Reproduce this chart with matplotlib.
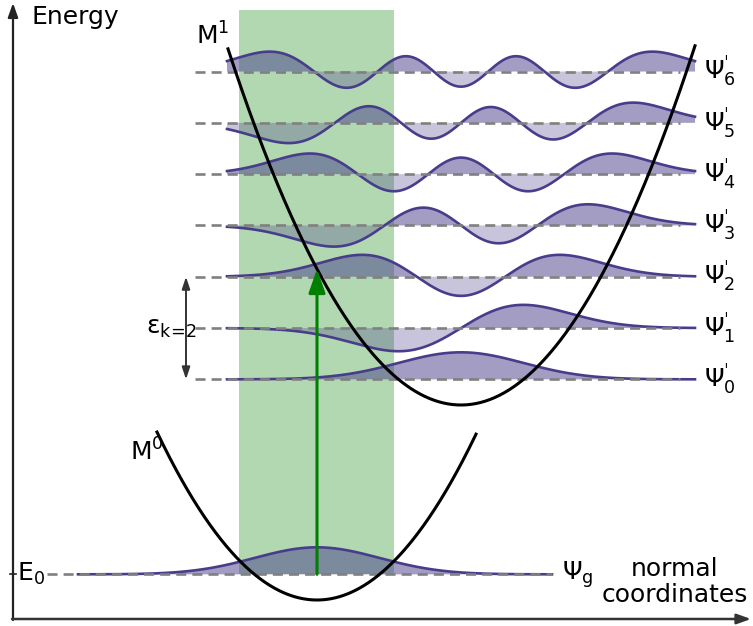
import numpy as np
import matplotlib
matplotlib.use("Agg")
import matplotlib.pyplot as plt
from math import factorial, pi, sqrt
from numpy.polynomial.hermite import hermval

plt.rcParams['font.family'] = ['DejaVu Sans']
plt.rcParams['mathtext.default'] = 'regular'

# ---------------- data (diagram units: x = normal coordinate, y = energy) ----------------
quantum_numbers = [0, 1, 2, 3, 4, 5, 6]
excited_labels = ["Ψ$_{0}^{ˈ}$", "Ψ$_{1}^{ˈ}$", "Ψ$_{2}^{ˈ}$", "Ψ$_{3}^{ˈ}$",
                  "Ψ$_{4}^{ˈ}$", "Ψ$_{5}^{ˈ}$", "Ψ$_{6}^{ˈ}$"]
ground_label = "Ψ$_{g}$"
ground_center = 317.0      # minimum of M0 along normal coordinate
excited_center = 461.0     # minimum of M1 along normal coordinate
ground_min_energy = 26.0
excited_min_energy = 221.0
curvature = 0.00656        # V = curvature * (x - x0)^2
quantum = 51.3             # vibrational quantum (hbar*omega)
wf_width = 62.5            # oscillator length
wf_scale = 36.0            # drawing amplitude of wavefunctions
ground_span = (157, 476)   # x-range drawn for M0
excited_span = (228, 695)  # x-range drawn for M1
ground_wf_span = (78, 552)
excited_wf_span = (227, 695)
franck_condon_band = (239, 394)
k_transition = 2

W, H = 753, 626
FS = 18
fig = plt.figure(figsize=(W / 100, H / 100), dpi=100)
ax = fig.add_axes([0, 0, 1, 1])
ax.set_xlim(0, W)
ax.set_ylim(0, H)
ax.axis('off')

def py(p):  # pixel row -> energy coordinate
    return H - p

line_col = '#483d8b'
dash_col = '#808080'

def psi(n, x, x0):
    xi = (np.asarray(x) - x0) / wf_width
    c = np.zeros(n + 1); c[n] = 1
    norm = 1.0 / sqrt(2 ** n * factorial(n) * sqrt(pi))
    return norm * hermval(xi, c) * np.exp(-xi ** 2 / 2)

def draw_wf(n, x0, level, span, dash_span):
    x = np.linspace(span[0], span[1], 800)
    y = level + wf_scale * psi(n, x, x0)
    ax.fill_between(x, level, y, where=(y >= level), interpolate=True,
                    facecolor=line_col, alpha=0.5, lw=0, zorder=2)
    ax.fill_between(x, level, y, where=(y <= level), interpolate=True,
                    facecolor=line_col, alpha=0.3, lw=0, zorder=2)
    ax.plot(x, y, color=line_col, lw=1.9, zorder=3)
    ax.plot(dash_span, [level, level], color=dash_col, lw=1.9,
            linestyle=(0, (3.8, 2.3)), zorder=4)

# Franck-Condon band
ground_level = ground_min_energy + quantum / 2
ax.axvspan(franck_condon_band[0], franck_condon_band[1],
           ymin=ground_level / H, ymax=py(10) / H,
           facecolor='green', alpha=0.3, lw=0, zorder=1)

# ground state
draw_wf(0, ground_center, ground_level, ground_wf_span, (47, 552))

# excited states
excited_levels = [excited_min_energy + quantum * (n + 0.5) for n in quantum_numbers]
for n, lev, lab in zip(quantum_numbers, excited_levels, excited_labels):
    draw_wf(n, excited_center, lev, excited_wf_span, (195, 680))
    ax.text(704, lev, lab, fontsize=FS, va='center', ha='left')

# potentials
xg = np.linspace(*ground_span, 400)
ax.plot(xg, ground_min_energy + curvature * (xg - ground_center) ** 2,
        color='black', lw=2.2, zorder=5)
xe = np.linspace(*excited_span, 400)
ax.plot(xe, excited_min_energy + curvature * (xe - excited_center) ** 2,
        color='black', lw=2.2, zorder=5)

# vertical transition
tip = excited_min_energy + curvature * (ground_center - excited_center) ** 2
ax.annotate('', xy=(ground_center, tip), xytext=(ground_center, ground_level),
            arrowprops=dict(arrowstyle='-|>,head_length=0.8,head_width=0.28',
                            mutation_scale=18, color='green', lw=2.2,
                            shrinkA=0, shrinkB=0), zorder=6)

# epsilon double arrow
ax.annotate('', xy=(186, excited_levels[k_transition]), xytext=(186, excited_levels[0]),
            arrowprops=dict(arrowstyle='<|-|>,head_length=0.6,head_width=0.2',
                            mutation_scale=12, color='#333333', lw=1.4,
                            shrinkA=0, shrinkB=0), zorder=6)
ax.text(146, (excited_levels[0] + excited_levels[k_transition]) / 2,
        r"ε$_{k\!=\!%d}$" % k_transition, fontsize=FS, va='center', ha='left')

# axes arrows
ax.annotate('', xy=(13, py(3)), xytext=(13, py(620)),
            arrowprops=dict(arrowstyle='-|>,head_length=0.7,head_width=0.25',
                            mutation_scale=12, color='#222222', lw=1.6,
                            shrinkA=0, shrinkB=0))
ax.annotate('', xy=(751, py(619)), xytext=(12, py(619)),
            arrowprops=dict(arrowstyle='-|>,head_length=0.7,head_width=0.25',
                            mutation_scale=12, color='#333333', lw=1.8,
                            shrinkA=0, shrinkB=0))
ax.plot([10, 16], [ground_level, ground_level], color='#222222', lw=1.2)

# labels
ax.text(32, py(17), "Energy", fontsize=FS, va='center', ha='left')
ax.text(196, py(36), "M$^{1}$", fontsize=FS, va='center', ha='left')
ax.text(130, py(452), "M$^{0}$", fontsize=FS, va='center', ha='left')
ax.text(17, ground_level, "E$_{0}$", fontsize=FS, va='center', ha='left')
ax.text(562, ground_level, ground_label, fontsize=FS, va='center', ha='left')
ax.text(675, py(582), "normal\ncoordinates", fontsize=FS, va='center', ha='center',
        linespacing=1.15)

fig.savefig("out.png", dpi=100)
